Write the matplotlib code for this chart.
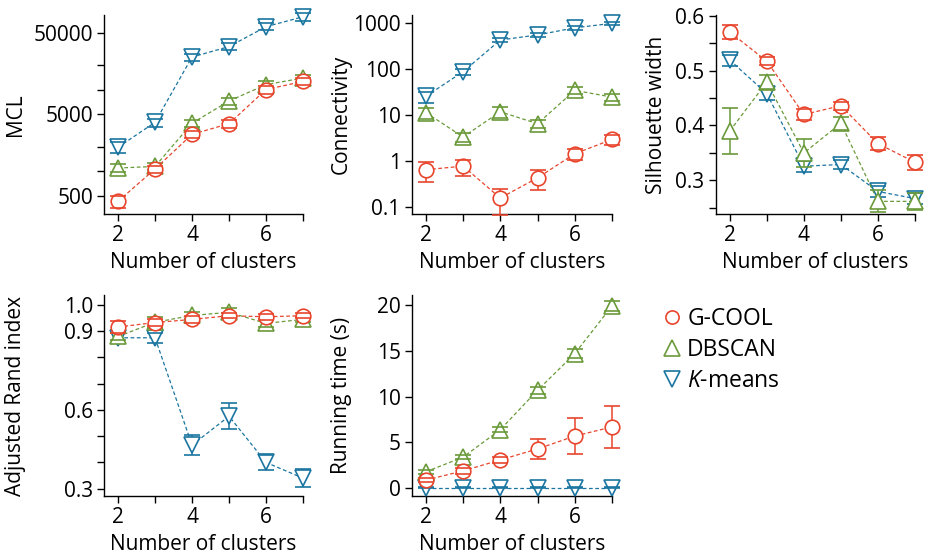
import matplotlib
matplotlib.use("Agg")
import matplotlib.pyplot as plt
from matplotlib.lines import Line2D

plt.rcParams['font.family'] = ['Open Sans', 'DejaVu Sans']
plt.rcParams['mathtext.fontset'] = 'custom'
plt.rcParams['mathtext.it'] = 'Open Sans:italic'
plt.rcParams['mathtext.rm'] = 'Open Sans'
plt.rcParams['font.size'] = 15

ks = [2, 3, 4, 5, 6, 7]
methods = ['G-COOL', 'DBSCAN', '$K$-means']

# MCL
gcool_mcl = [430, 1070, 2850, 3850, 10100, 12700]
dbscan_mcl = [1100, 1150, 3900, 7300, 11600, 14000]
kmeans_mcl = [1980, 4000, 25300, 34000, 59600, 79000]
gcool_mcl_err = [70, 110, 300, 400, 1100, 1300]
dbscan_mcl_err = [130, 120, 400, 700, 1200, 1400]
kmeans_mcl_err = [300, 450, 2500, 3500, 6000, 8000]

# connectivity
gcool_conn = [0.66, 0.79, 0.16, 0.44, 1.47, 3.0]
dbscan_conn = [11.5, 3.4, 12, 6.6, 35, 25]
kmeans_conn = [26, 89, 436, 560, 800, 1000]
gcool_conn_err = [0.3, 0.3, 0.09, 0.2, 0.4, 0.7]
dbscan_conn_err = [3, 0.8, 3, 1.3, 6, 4]
kmeans_conn_err = [7, 12, 45, 60, 80, 80]

# silhouette width
gcool_sil = [0.57, 0.517, 0.42, 0.436, 0.367, 0.333]
dbscan_sil = [0.39, 0.479, 0.35, 0.404, 0.262, 0.262]
kmeans_sil = [0.519, 0.458, 0.326, 0.329, 0.28, 0.267]
gcool_sil_err = [0.013, 0.007, 0.01, 0.007, 0.012, 0.014]
dbscan_sil_err = [0.042, 0.012, 0.025, 0.012, 0.02, 0.015]
kmeans_sil_err = [0.01, 0.012, 0.01, 0.008, 0.01, 0.01]

# adjusted rand index
gcool_ari = [0.916, 0.933, 0.945, 0.959, 0.955, 0.959]
dbscan_ari = [0.88, 0.934, 0.96, 0.972, 0.93, 0.945]
kmeans_ari = [0.875, 0.875, 0.466, 0.576, 0.40, 0.34]
gcool_ari_err = [0.022, 0.015, 0.012, 0.01, 0.012, 0.01]
dbscan_ari_err = [0.015, 0.02, 0.015, 0.015, 0.015, 0.01]
kmeans_ari_err = [0.02, 0.02, 0.037, 0.05, 0.03, 0.033]

# running time (s)
gcool_time = [0.9, 1.9, 3.1, 4.3, 5.7, 6.7]
dbscan_time = [1.8, 3.4, 6.4, 10.7, 14.7, 19.9]
kmeans_time = [0.05, 0.05, 0.05, 0.05, 0.05, 0.05]
gcool_time_err = [0.2, 0.3, 0.3, 1.05, 1.95, 2.25]
dbscan_time_err = [0.2, 0.2, 0.3, 0.4, 0.5, 0.5]
kmeans_time_err = [0.05, 0.05, 0.05, 0.05, 0.05, 0.05]

colors = ['#E8452C', '#6A9A3A', '#1A75A0']
markers = ['o', '^', 'v']
msizes = [10.5, 12, 12]

W, H = 928, 554
fig = plt.figure(figsize=(W / 100, H / 100), dpi=100)


def make_ax(left, top, right, bottom):
    return fig.add_axes([left / W, 1 - bottom / H, (right - left) / W, (bottom - top) / H])


def draw(ax, series, errs, ylabel, label_x):
    # K-means first so G-COOL ends up on top
    for i in [2, 1, 0]:
        z = 3 + (2 - i)
        ln, caps, bars = ax.errorbar(ks, series[i], yerr=errs[i], color=colors[i],
                                     marker=markers[i], markersize=msizes[i],
                                     markerfacecolor='white', markeredgewidth=1.2,
                                     linestyle=(0, (3, 2)), linewidth=0.9,
                                     capsize=5.5, elinewidth=1.1, capthick=1.1,
                                     zorder=z, clip_on=False)
        for c in caps:
            c.set_zorder(z + 0.5)
            c.set_clip_on(False)
        for b in bars:
            b.set_clip_on(False)
    ax.spines['top'].set_visible(False)
    ax.spines['right'].set_visible(False)
    for s in ['left', 'bottom']:
        ax.spines[s].set_linewidth(1.0)
    ax.set_xlim(1.62, 7)
    ax.set_xticks(ks)
    ax.set_xticklabels(['2', '', '4', '', '6', ''])
    ax.tick_params(axis='both', which='both', direction='out', width=1.0, length=5, pad=3)
    ax.set_xlabel('Number of clusters', labelpad=4)
    ax.set_ylabel(ylabel)
    ax.yaxis.set_label_coords(label_x, 0.5)


ax1 = make_ax(104, 15, 303, 214)
draw(ax1, [gcool_mcl, dbscan_mcl, kmeans_mcl], [gcool_mcl_err, dbscan_mcl_err, kmeans_mcl_err], 'MCL', -0.39)
ax1.set_yscale('log')
ax1.set_ylim(300, 83000)
ax1.set_yticks([500, 5000, 50000])
ax1.set_yticklabels(['500', '5000', '50000'])
ax1.set_yticks([1000, 2000, 10000, 20000], minor=True)
ax1.set_yticklabels([], minor=True)

ax2 = make_ax(411.7, 15, 612, 214)
draw(ax2, [gcool_conn, dbscan_conn, kmeans_conn], [gcool_conn_err, dbscan_conn_err, kmeans_conn_err], 'Connectivity', -0.30)
ax2.set_yscale('log')
ax2.set_ylim(0.072, 1520)
ax2.set_yticks([0.1, 1, 10, 100, 1000])
ax2.set_yticklabels(['0.1', '1', '10', '100', '1000'])
ax2.set_yticks([], minor=True)

ax3 = make_ax(715.7, 15, 915, 214)
draw(ax3, [gcool_sil, dbscan_sil, kmeans_sil], [gcool_sil_err, dbscan_sil_err, kmeans_sil_err], 'Silhouette width', -0.245)
ax3.set_ylim(0.239, 0.601)
ax3.set_yticks([0.3, 0.4, 0.5, 0.6])
ax3.set_yticks([0.25, 0.35, 0.45, 0.55], minor=True)

ax4 = make_ax(104, 295, 303, 496)
draw(ax4, [gcool_ari, dbscan_ari, kmeans_ari], [gcool_ari_err, dbscan_ari_err, kmeans_ari_err], 'Adjusted Rand index', -0.39)
ax4.set_ylim(0.272, 1.038)
ax4.set_yticks([0.3, 0.6, 0.9, 1.0])
ax4.set_yticks([0.4, 0.5, 0.7, 0.8], minor=True)

ax5 = make_ax(411.7, 295, 612, 496)
draw(ax5, [gcool_time, dbscan_time, kmeans_time], [gcool_time_err, dbscan_time_err, kmeans_time_err], 'Running time (s)', -0.30)
ax5.set_ylim(-0.84, 21.1)
ax5.set_yticks([0, 5, 10, 15, 20])

leg_handles = [Line2D([], [], color=colors[i], marker=markers[i], linestyle='none',
                      markersize=msizes[i] - 1, markerfacecolor='white',
                      markeredgewidth=1.2) for i in range(3)]
fig.legend(leg_handles, methods, loc='upper left', bbox_to_anchor=(662 / W, 1 - 307 / H),
           frameon=False, handlelength=0.85, handletextpad=0.25, labelspacing=0.3,
           borderaxespad=0, borderpad=0, fontsize=16.5)

fig.savefig('out.png', dpi=100)
